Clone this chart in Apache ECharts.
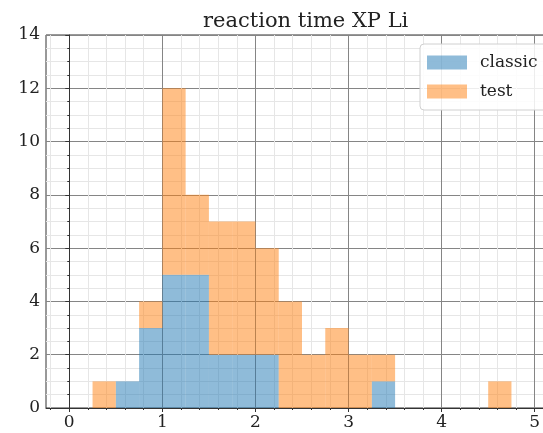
<!DOCTYPE html>
<html><head><meta charset="utf-8">
<script src="https://cdn.jsdelivr.net/npm/echarts@6/dist/echarts.min.js"></script>
<style>html,body{margin:0;padding:0;background:#fff;overflow:hidden;width:543px;height:433px}#c{width:562px;height:433px}</style>
</head><body><div id="c"></div>
<script>
const titleText = 'reaction time XP Li';
const seriesNames = ['classic', 'test'];
const binStarts = [0, 0.25, 0.5, 0.75, 1.0, 1.25, 1.5, 1.75, 2.0, 2.25, 2.5, 2.75, 3.0, 3.25, 3.5, 3.75, 4.0, 4.25, 4.5, 4.75];
const binWidth = 0.25;
const classicCounts = [0, 0, 1, 3, 5, 5, 2, 2, 2, 0, 0, 0, 0, 1, 0, 0, 0, 0, 0, 0];
const testCounts    = [0, 1, 0, 1, 7, 3, 5, 5, 4, 4, 2, 3, 2, 1, 0, 0, 0, 0, 1, 0];
const xMajorTicks = [0, 1, 2, 3, 4, 5];
const xMinorTicks = [-0.2, 0.2, 0.4, 0.6, 0.8, 1.2, 1.4, 1.6, 1.8, 2.2, 2.4, 2.6, 2.8, 3.2, 3.4, 3.6, 3.8, 4.2, 4.4, 4.6, 4.8, 5.2];
const yTicks = [0, 2, 4, 6, 8, 10, 12, 14];

const FONT = 'DejaVu Serif';
const colors = ['rgba(31,119,180,0.5)', 'rgba(255,127,14,0.5)'];
const majorGrid = '#858585', minorGrid = '#e6e6e6', axisColor = '#333';

const classicData = binStarts.map((s, i) => [s, s + binWidth, 0, classicCounts[i]]);
const testData = binStarts.map((s, i) => [s, s + binWidth, classicCounts[i], classicCounts[i] + testCounts[i]]);

function makeRender(color) {
  return function (params, api) {
    const x0 = api.value(0), x1 = api.value(1), y0 = api.value(2), y1 = api.value(3);
    if (y1 <= y0) return null;
    const p0 = api.coord([x0, y0]);
    const p1 = api.coord([x1, y1]);
    return {
      type: 'rect',
      shape: { x: p0[0], y: p1[1], width: p1[0] - p0[0], height: p0[1] - p1[1] },
      style: { fill: color }
    };
  };
}

const chart = echarts.init(document.getElementById('c'), null, { renderer: 'canvas' });
chart.setOption({
  animation: false,
  backgroundColor: '#fff',
  title: {
    text: titleText, left: 198, top: 6,
    textStyle: { fontFamily: FONT, fontSize: 21, fontWeight: 'normal', color: '#222' }
  },
  legend: {
    orient: 'vertical', left: 420, top: 44,
    data: seriesNames.map(n => ({ name: n, icon: 'rect' })),
    itemWidth: 40, itemHeight: 14, itemGap: 12,
    padding: [10, 50, 10, 7],
    backgroundColor: 'rgba(255,255,255,0.85)', borderColor: '#d0d0d0', borderWidth: 1, borderRadius: 4,
    textStyle: { fontFamily: FONT, fontSize: 17, color: '#222', padding: [0, 0, 0, 8] }
  },
  grid: { left: 46, right: 4, top: 35, bottom: 25, show: true, borderColor: axisColor, borderWidth: 1, backgroundColor: 'transparent' },
  xAxis: [
    {
      type: 'value', min: -0.25, max: 5.25,
      axisLine: { show: true, onZero: false, lineStyle: { color: axisColor } },
      axisTick: { show: true, length: 4, customValues: xMajorTicks, lineStyle: { color: axisColor } },
      axisLabel: { customValues: xMajorTicks, fontFamily: FONT, fontSize: 17, color: '#222', margin: 6 },
      splitLine: { show: true, lineStyle: { color: majorGrid, width: 1 } }
    },
    {
      type: 'value', min: -0.25, max: 5.25, position: 'bottom',
      axisLine: { show: false },
      axisTick: { show: true, length: 2, customValues: xMinorTicks, lineStyle: { color: axisColor } },
      axisLabel: { show: false },
      splitLine: { show: true, lineStyle: { color: minorGrid, width: 1 } }
    }
  ],
  yAxis: {
    type: 'value', min: 0, max: 14, interval: 2,
    axisLine: { show: true, lineStyle: { color: axisColor } },
    axisTick: { show: true, length: 4, lineStyle: { color: axisColor } },
    minorTick: { show: true, splitNumber: 4, length: 2, lineStyle: { color: axisColor } },
    axisLabel: { fontFamily: FONT, fontSize: 17, color: '#222', margin: 6 },
    splitLine: { show: true, lineStyle: { color: majorGrid, width: 1 } },
    minorSplitLine: { show: true, lineStyle: { color: minorGrid, width: 1 } }
  },
  series: [
    {
      name: seriesNames[0], type: 'custom', xAxisIndex: 0, itemStyle: { color: colors[0] },
      renderItem: makeRender(colors[0]), encode: { x: [0, 1], y: [2, 3] }, data: classicData, z: 5
    },
    {
      name: seriesNames[1], type: 'custom', xAxisIndex: 0, itemStyle: { color: colors[1] },
      renderItem: makeRender(colors[1]), encode: { x: [0, 1], y: [2, 3] }, data: testData, z: 5
    }
  ]
});
</script></body></html>
